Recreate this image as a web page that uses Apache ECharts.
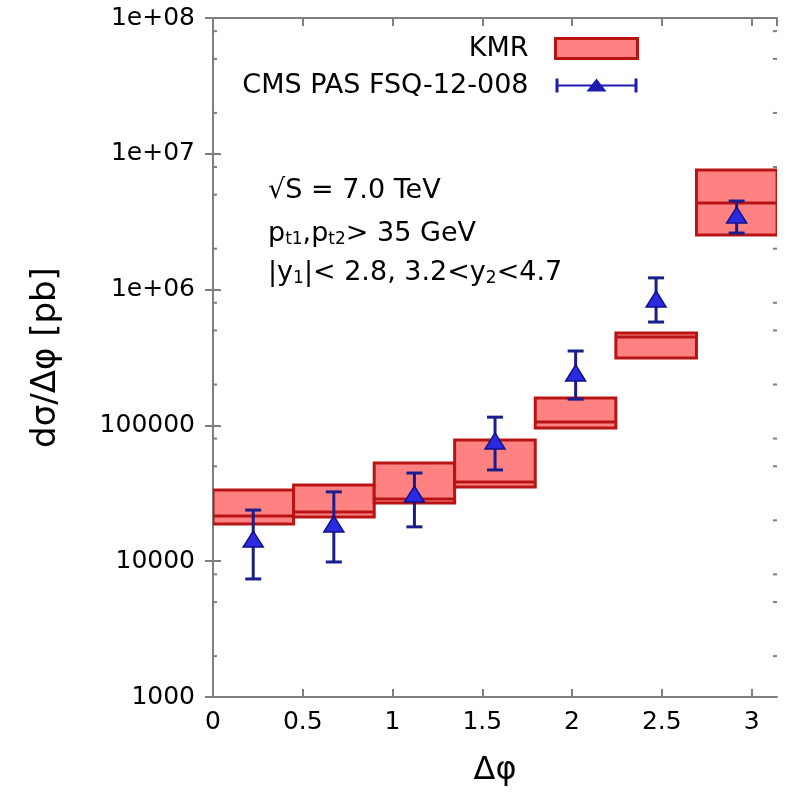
<!DOCTYPE html>
<html>
<head>
<meta charset="utf-8">
<script src="https://cdn.jsdelivr.net/npm/echarts@6/dist/echarts.min.js"></script>
<style>
html, body { margin: 0; padding: 0; background: #fff; }
#main { width: 786px; height: 795px; }
</style>
</head>
<body>
<div id="main"></div>
<script>
// KMR prediction bins (delta phi edges) and band values [pb]
var binLo = [0, 0.449, 0.898, 1.346, 1.795, 2.244, 2.693];
var binHi = [0.449, 0.898, 1.346, 1.795, 2.244, 2.693, 3.142];
var kmrLow = [18800, 21200, 26800, 35200, 95700, 313000, 2520000];
var kmrHigh = [33400, 36400, 52900, 78000, 159000, 479000, 7600000];
var kmrMid = [21500, 23000, 28700, 38300, 106000, 448000, 4340000];

// CMS PAS FSQ-12-008 points with error bars
var cmsX = [0.224, 0.673, 1.122, 1.571, 2.020, 2.468, 2.917];
var cmsY = [14300, 18500, 30700, 75500, 239000, 838000, 3480000];
var cmsDown = [7400, 9870, 17900, 47000, 156000, 577000, 2610000];
var cmsUp = [23800, 32400, 44600, 115000, 353000, 1220000, 4490000];

// minor ticks on the log axis
var minorTicks = [2000, 5000, 8000, 20000, 50000, 80000, 200000, 500000, 800000,
    2e6, 5e6, 8e6, 2e7, 5e7, 8e7];

(function chart1() {
    var dom = document.getElementById('main');
    var chart = echarts.init(dom);
    var font = 'DejaVu Sans';
    var axisGray = '#7f7f7f';
    var boxFill = '#ff8282';
    var boxLine = '#b81414';
    var barColor = '#1c1c8c';
    var triColor = '#2a2ae0';

    function expLabel(v) {
        if (v >= 1e6) {
            var e = Math.round(Math.log(v) / Math.LN10);
            return '1e+' + (e < 10 ? '0' : '') + e;
        }
        return String(Math.round(v));
    }

    var kmrData = binLo.map(function (lo, i) {
        return [lo, binHi[i], kmrLow[i], kmrHigh[i], kmrMid[i]];
    });
    var cmsData = cmsX.map(function (x, i) {
        return [x, cmsY[i], cmsDown[i], cmsUp[i]];
    });
    var minorData = minorTicks.map(function (v) {
        return [0, v];
    });

    var xCommon = {
        type: 'value',
        min: 0,
        max: Math.PI,
        interval: 0.5,
        axisLine: {lineStyle: {color: axisGray, width: 2}},
        axisTick: {inside: true, length: 8, lineStyle: {color: axisGray, width: 2}},
        splitLine: {show: false}
    };
    var yCommon = {
        type: 'log',
        logBase: 10,
        min: 1000,
        max: 1e8,
        axisLine: {show: true, lineStyle: {color: axisGray, width: 2}},
        axisTick: {show: true, inside: true, length: 8, lineStyle: {color: axisGray, width: 2}},
        splitLine: {show: false}
    };
    var rich = {
        n: {fontSize: 27, fontFamily: font, fill: '#000', lineHeight: 30},
        s: {fontSize: 17, fontFamily: font, fill: '#000', lineHeight: 14, verticalAlign: 'bottom'}
    };

    var option = {
        backgroundColor: '#fff',
        animation: false,
        textStyle: {fontFamily: font},
        grid: {left: 213, right: 9, top: 18, bottom: 98, containLabel: false},
        legend: {
            orient: 'vertical',
            right: 147,
            top: 35,
            align: 'right',
            padding: 0,
            itemGap: 10,
            itemWidth: 82,
            itemHeight: 20,
            selectedMode: false,
            textStyle: {fontSize: 27, color: '#000', fontFamily: font, padding: [0, 22, 0, 0]},
            data: [
                {name: 'KMR', icon: 'rect',
                    itemStyle: {color: boxFill, borderColor: boxLine, borderWidth: 3}},
                {name: 'CMS PAS FSQ-12-008',
                    icon: 'path://M0,3H3V17H0Z M79,3H82V17H79Z M0,9H82V11H0Z M31,16L41,3L51,16Z',
                    itemStyle: {color: '#1c1cb0', borderWidth: 0}}
            ]
        },
        graphic: [
            {type: 'text', left: 268, top: 177,
                style: {text: '√S = 7.0 TeV', font: '27px "DejaVu Sans"', fill: '#000'}},
            {type: 'text', left: 268, top: 220,
                style: {text: '{n|p}{s|t1}{n|,p}{s|t2}{n|> 35 GeV}', rich: rich}},
            {type: 'text', left: 268, top: 259,
                style: {text: '{n||y}{s|1}{n||< 2.8, 3.2<y}{s|2}{n|<4.7}', rich: rich}}
        ],
        xAxis: [
            Object.assign({}, xCommon, {
                position: 'bottom',
                name: 'Δφ',
                nameLocation: 'middle',
                nameGap: 58,
                nameTextStyle: {fontSize: 32, color: '#000', fontFamily: font},
                axisLabel: {fontSize: 25, color: '#000', margin: 13, showMaxLabel: false, fontFamily: font}
            }),
            Object.assign({}, xCommon, {
                position: 'top',
                axisLabel: {show: false}
            })
        ],
        yAxis: [
            Object.assign({}, yCommon, {
                position: 'left',
                name: 'dσ/Δφ [pb]',
                nameLocation: 'middle',
                nameRotate: 90,
                nameGap: 150,
                nameTextStyle: {fontSize: 34, color: '#000', fontFamily: font},
                axisLabel: {fontSize: 25, color: '#000', margin: 18, fontFamily: font, formatter: expLabel}
            }),
            Object.assign({}, yCommon, {
                position: 'right',
                axisLabel: {show: false}
            })
        ],
        series: [
            {
                name: 'minor',
                type: 'custom',
                silent: true,
                z: 1,
                data: minorData,
                encode: {x: 0, y: 1},
                renderItem: function (params, api) {
                    var v = api.value(1);
                    var l = api.coord([0, v]);
                    var r = api.coord([Math.PI, v]);
                    var st = {stroke: axisGray, lineWidth: 2};
                    return {
                        type: 'group',
                        children: [
                            {type: 'line', shape: {x1: l[0], y1: l[1], x2: l[0] + 4, y2: l[1]}, style: st},
                            {type: 'line', shape: {x1: r[0] - 4, y1: r[1], x2: r[0], y2: r[1]}, style: st}
                        ]
                    };
                }
            },
            {
                name: 'KMR',
                type: 'custom',
                z: 2,
                clip: true,
                itemStyle: {color: boxFill},
                data: kmrData,
                encode: {x: [0, 1], y: [2, 3, 4]},
                renderItem: function (params, api) {
                    var a = api.coord([api.value(0), api.value(3)]);
                    var b = api.coord([api.value(1), api.value(2)]);
                    var m = api.coord([api.value(0), api.value(4)]);
                    return {
                        type: 'group',
                        children: [
                            {type: 'rect', shape: {x: a[0], y: a[1], width: b[0] - a[0], height: b[1] - a[1]},
                                style: {fill: boxFill, stroke: boxLine, lineWidth: 3}},
                            {type: 'line', shape: {x1: a[0], y1: m[1], x2: b[0], y2: m[1]},
                                style: {stroke: boxLine, lineWidth: 3}}
                        ]
                    };
                }
            },
            {
                name: 'CMS PAS FSQ-12-008',
                type: 'custom',
                z: 3,
                itemStyle: {color: triColor},
                data: cmsData,
                encode: {x: 0, y: [1, 2, 3]},
                renderItem: function (params, api) {
                    var x = api.value(0);
                    var p = api.coord([x, api.value(1)]);
                    var lo = api.coord([x, api.value(2)]);
                    var hi = api.coord([x, api.value(3)]);
                    var st = {stroke: barColor, lineWidth: 3};
                    return {
                        type: 'group',
                        children: [
                            {type: 'line', shape: {x1: hi[0], y1: hi[1], x2: lo[0], y2: lo[1]}, style: st},
                            {type: 'line', shape: {x1: hi[0] - 8, y1: hi[1], x2: hi[0] + 8, y2: hi[1]}, style: st},
                            {type: 'line', shape: {x1: lo[0] - 8, y1: lo[1], x2: lo[0] + 8, y2: lo[1]}, style: st},
                            {type: 'polygon',
                                shape: {points: [[p[0], p[1] - 9], [p[0] - 10, p[1] + 7], [p[0] + 10, p[1] + 7]]},
                                style: {fill: triColor, stroke: '#10108a', lineWidth: 1.5}}
                        ]
                    };
                }
            }
        ]
    };

    if (option && typeof option === "object") {
        chart.setOption(option, true);
    }
})();
</script>
</body>
</html>
